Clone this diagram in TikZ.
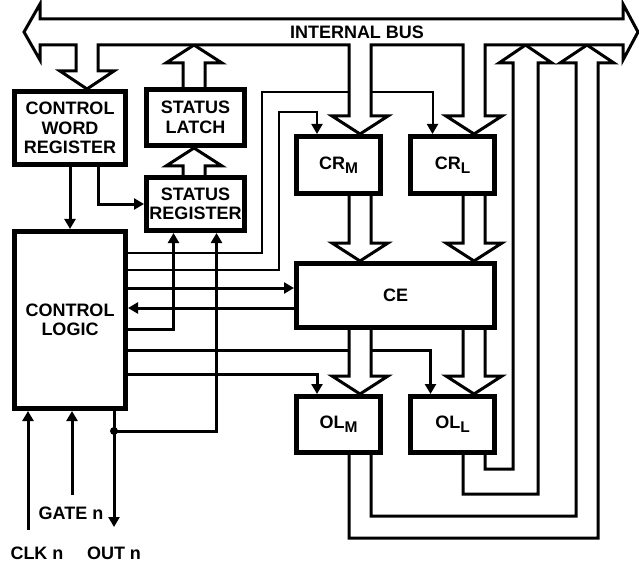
\documentclass[tikz,border=0pt]{standalone}
\usepackage{fontspec}
\setmainfont{Liberation Sans}
\usepackage{tikz}
\usetikzlibrary{arrows.meta}

\newcommand\lsub[1]{\raisebox{-4bp}{\fontsize{15.5bp}{16bp}\selectfont #1}}
% hollow arrows: column x, tail y, tip y
\newcommand\fatdown[3]{%
  \filldraw[fat] (#1-11,#2) -- (#1-11,#3-18) -- (#1-28,#3-18) -- (#1,#3)
    -- (#1+28,#3-18) -- (#1+11,#3-18) -- (#1+11,#2);}
\newcommand\fatup[3]{%
  \filldraw[fat] (#1-11,#2) -- (#1-11,#3+18) -- (#1-28,#3+18) -- (#1,#3)
    -- (#1+28,#3+18) -- (#1+11,#3+18) -- (#1+11,#2);}

\begin{document}
\begin{tikzpicture}[
  x=1bp, y=-1bp,
  box/.style={
    draw, line width=5bp, inner sep=0pt, align=center,
    font=\fontsize{18bp}{19.5bp}\selectfont\bfseries
  },
  lbl/.style={inner sep=0pt, align=center, font=\fontsize{18bp}{19.5bp}\selectfont\bfseries},
  sig/.style={line width=3bp, -{Triangle[length=10bp,width=11bp]}},
  thinsig/.style={sig, line width=2bp},
  wire/.style={line width=3bp},
  fat/.style={line width=3bp, fill=white},
]
\useasboundingbox (0,0) rectangle (639,564);

% === Registers and logic ===
\node[box, minimum width=111bp, minimum height=73bp] (cwr) at (70,128) {CONTROL\\WORD\\REGISTER};
\node[box, minimum width=98bp, minimum height=56bp] (latch) at (195.5,117.5) {STATUS\\LATCH};
\node[box, minimum width=98bp, minimum height=53bp] (sreg) at (195.5,204) {STATUS\\REGISTER};
\node[box, minimum width=111bp, minimum height=177bp] (ctl) at (70,320) {CONTROL\\LOGIC};
\node[box, minimum width=84bp, minimum height=57bp] (crm) at (338.5,165) {CR\lsub{M}};
\node[box, minimum width=84bp, minimum height=57bp] (crl) at (452.5,165) {CR\lsub{L}};
\node[box, minimum width=198bp, minimum height=64bp] (ce) at (395.5,295.5) {CE};
\node[box, minimum width=84bp, minimum height=56bp] (olm) at (338.5,424.5) {OL\lsub{M}};
\node[box, minimum width=84bp, minimum height=56bp] (oll) at (452.5,424.5) {OL\lsub{L}};

% === Pins ===
\node[lbl] (clkn) at (37,553) {CLK n};
\node[lbl] (gaten) at (71,513) {GATE n};
\node[lbl] (outn) at (114,553) {OUT n};
\coordinate (clkin) at (28,530);
\coordinate (gatein) at (72,495);
\coordinate (outend) at (114,527);
\coordinate (outtap) at (114,431);

\draw[sig] (clkin) -- (clkin |- ctl.south);
\draw[sig] (gatein) -- (gatein |- ctl.south);
\draw[sig] (outtap |- ctl.south) -- (outend);
\fill (outtap) circle[radius=4bp];
\draw[sig] (outtap) -| ([xshift=21bp]sreg.south);

% === Control lines ===
\draw[sig] (cwr.south) -- (ctl.north);
\draw[sig] ([xshift=28bp]cwr.south) |- (sreg.west);
\draw[thinsig] (ctl.east |- 0,253) -| (262,92) -| ([xshift=-20bp]crl.north);
\draw[thinsig] (ctl.east |- 0,270) -| (279,112) -| ([xshift=-21.5bp]crm.north);
\draw[sig] (ctl.east |- 0,288) -- (ce.west |- 0,288);
\draw[sig] (ce.west |- 0,308) -- (ctl.east |- 0,308);
\draw[sig] (ctl.east |- 0,329) -| ([xshift=-22bp]sreg.south);
\draw[sig] (ctl.east |- 0,350) -| ([xshift=-22bp]oll.north);
\draw[sig] (ctl.east |- 0,374) -| ([xshift=-21.5bp]olm.north);

% === Data paths ===
\fatup{194}{175}{148}
\fatup{194}{87}{45}
\fatdown{360}{196}{261}
\fatdown{474}{196}{261}
\fatdown{360}{330}{394}
\fatdown{474}{330}{394}

% read-back from the output latches
\draw[fat, fill=none] (485,455) -- (485,469) -- (513,469) -- (513,63) -- (499,63)
  -- (525.5,45) -- (552,63) -- (538,63) -- (538,494) -- (463,494) -- (463,455);
\draw[fat, fill=none] (371,455) -- (371,516) -- (576,516) -- (576,63) -- (560,63)
  -- (587,45) -- (614,63) -- (598,63) -- (598,538) -- (349,538) -- (349,455);

% === Internal bus ===
\filldraw[fat] (24,32) -- (40,4) -- (40,19) -- (623,19) -- (623,4) -- (638,32)
  -- (623,60) -- (623,45)
  -- (485,45) -- (485,116) -- (502,116) -- (474,134) -- (446,116) -- (463,116) -- (463,45)
  -- (371,45) -- (371,116) -- (388,116) -- (360,134) -- (332,116) -- (349,116) -- (349,45)
  -- (98,45) -- (98,71) -- (114,71) -- (87,89) -- (60,71) -- (76,71) -- (76,45)
  -- (40,45) -- (40,60) -- cycle;
\node[lbl] (bus) at (357,32) {INTERNAL BUS};

\end{tikzpicture}
\end{document}
